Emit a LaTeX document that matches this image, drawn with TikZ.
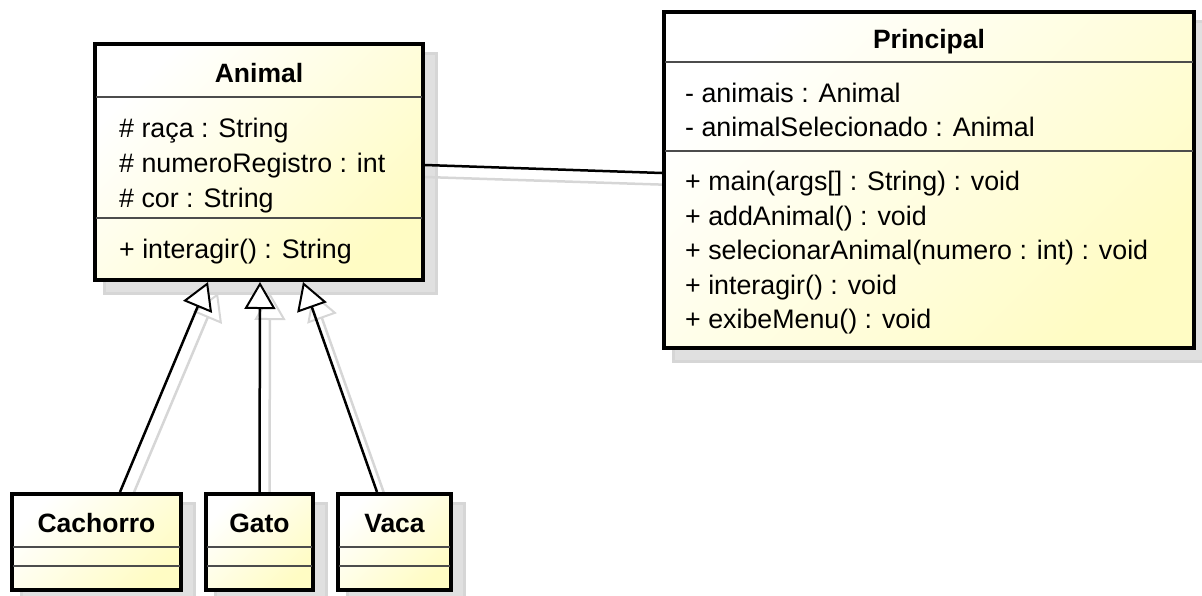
\documentclass[tikz,border=0pt]{standalone}
\usepackage{fontspec}
\setmainfont{Liberation Sans}
\usetikzlibrary{arrows.meta,calc}
\definecolor{yfill}{RGB}{255,252,196}
\definecolor{shadowc}{RGB}{224,224,224}
\definecolor{shadowl}{RGB}{214,214,214}
\pgfdeclarelayer{bg}
\pgfsetlayers{bg,main}
\begin{document}
\begin{tikzpicture}[x=1pt,y=-1pt,
  cls/.style={draw=black, line width=4pt, rectangle, inner sep=0pt,
    top color=white, bottom color=yfill, shading angle=45},
  sep/.style={draw=black!70, line width=1.5pt},
  ttl/.style={font=\fontsize{26.5}{30}\selectfont\bfseries, inner sep=0pt, anchor=base},
  mem/.style={font=\fontsize{26.8}{30}\selectfont, inner sep=0pt, anchor=base west},
  shd/.style={fill=shadowc, draw=shadowl, line width=3pt},
  gen/.style={draw=black, line width=2.5pt,
    -{Triangle[length=27pt, width=31pt, line width=2pt, fill=white]}},
  genshd/.style={draw=shadowl, line width=2.5pt,
    -{Triangle[length=27pt, width=31pt, line width=2pt, fill=white]}},
  assoc/.style={draw=black, line width=2.5pt},
  assocshd/.style={draw=shadowl, line width=2.5pt}]
\useasboundingbox (0,0) rectangle (1202,595);

% class boxes
\node[cls, minimum width=328pt, minimum height=236pt] (animal) at (259,162) {};
\node[cls, minimum width=530pt, minimum height=336pt] (principal) at (929,180) {};
\node[cls, minimum width=169pt, minimum height=96pt] (cachorro) at (96.5,542) {};
\node[cls, minimum width=107pt, minimum height=96pt] (gato) at (259.5,542) {};
\node[cls, minimum width=113pt, minimum height=96pt] (vaca) at (394.5,542) {};

% shadows
\begin{pgfonlayer}{bg}
  \foreach \n in {animal,principal,cachorro,gato,vaca}{
    \path[shd] ($(\n.north west)+(11,11)$) rectangle ($(\n.south east)+(11,11)$);
  }
  \draw[genshd] ($(cachorro.north)+(33,11)$) -- ($(animal.south)+(-41,11)$);
  \draw[genshd] ($(gato.north)+(10,11)$) -- ($(animal.south)+(11,11)$);
  \draw[genshd] ($(vaca.north)+(-7,11)$) -- ($(animal.south)+(54,11)$);
  \draw[assocshd] ($(animal.east)+(0,15)$) -- ($(principal.west)+(12,5)$);
\end{pgfonlayer}

% compartment separators
\draw[sep] ($(animal.north west)+(3,55)$) -- ($(animal.north east)+(-3,55)$);
\draw[sep] ($(animal.north west)+(3,176)$) -- ($(animal.north east)+(-3,176)$);
\draw[sep] ($(principal.north west)+(3,52)$) -- ($(principal.north east)+(-3,52)$);
\draw[sep] ($(principal.north west)+(3,141)$) -- ($(principal.north east)+(-3,141)$);
\foreach \n in {cachorro,gato,vaca}{
  \draw[sep] ($(\n.north west)+(3,55)$) -- ($(\n.north east)+(-3,55)$);
  \draw[sep] ($(\n.north west)+(3,74)$) -- ($(\n.north east)+(-3,74)$);
}

% Animal texts
\node[ttl] (animalT) at (259,82) {Animal};
\node[mem] (a1) at (119,137) {\# raça : String};
\node[mem] (a2) at (119,172) {\# numeroRegistro : int};
\node[mem] (a3) at (119,207) {\# cor : String};
\node[mem] (a4) at (119,258) {+ interagir() : String};

% Principal texts
\node[ttl] (principalT) at (929,48) {Principal};
\node[mem] (p1) at (685,102) {- animais : Animal};
\node[mem] (p2) at (685,136) {- animalSelecionado : Animal};
\node[mem] (p3) at (685,190) {+ main(args[] : String) : void};
\node[mem] (p4) at (685,225) {+ addAnimal() : void};
\node[mem] (p5) at (685,259) {+ selecionarAnimal(numero : int) : void};
\node[mem] (p6) at (685,294) {+ interagir() : void};
\node[mem] (p7) at (685,328) {+ exibeMenu() : void};

% subclass titles
\node[ttl] (cachorroT) at (96.5,532) {Cachorro};
\node[ttl] (gatoT) at (259.5,532) {Gato};
\node[ttl] (vacaT) at (394.5,532) {Vaca};

% connectors
\draw[assoc] ($(animal.east)+(0,3)$) -- ($(principal.west)+(0,-7)$);
\draw[gen] ($(cachorro.north)+(23.5,0)$) -- ($(animal.south)+(-51,0)$);
\draw[gen] (gato.north) -- ($(animal.south)+(1,0)$);
\draw[gen] ($(vaca.north)+(-17.5,0)$) -- ($(animal.south)+(44,0)$);
\end{tikzpicture}
\end{document}
